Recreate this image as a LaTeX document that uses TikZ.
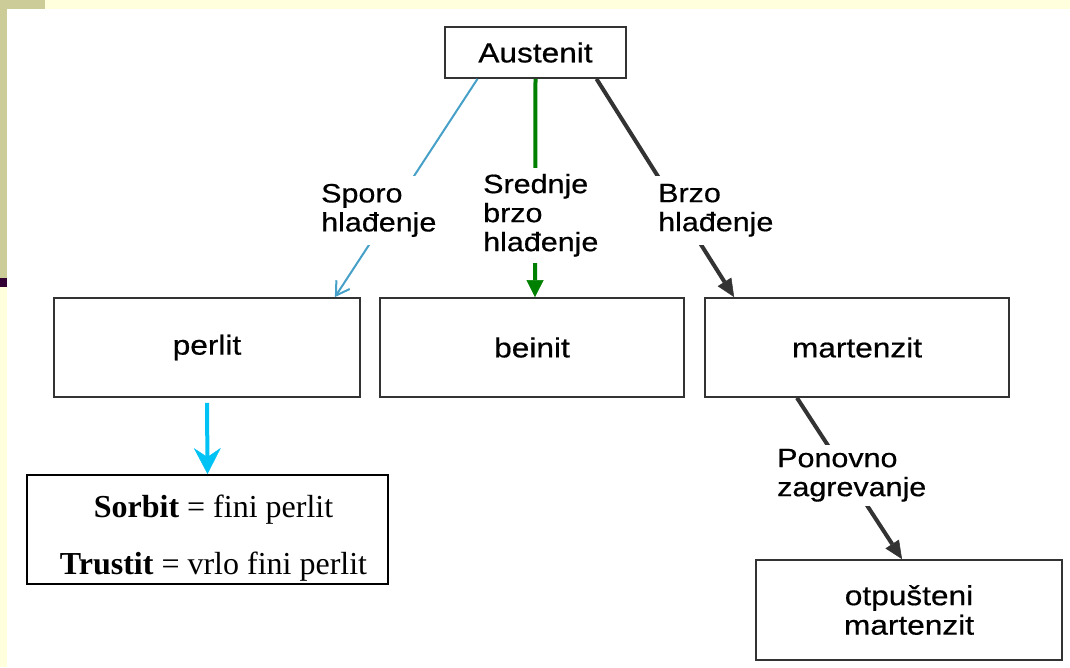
\documentclass[tikz,border=0pt]{standalone}
\usepackage{fontspec}
\setmainfont{Liberation Serif}
\newfontfamily\labfont[FakeStretch=1.15,FakeBold=0.6]{Liberation Sans}
\usetikzlibrary{arrows.meta,calc}
\definecolor{creamc}{HTML}{FFFFDD}
\definecolor{olivec}{HTML}{CCCC99}
\definecolor{plumc}{HTML}{330033}
\definecolor{bordc}{HTML}{333333}
\definecolor{slowc}{RGB}{70,160,200}
\definecolor{midc}{RGB}{0,128,0}
\definecolor{fastc}{HTML}{333333}
\definecolor{cyanc}{RGB}{0,195,245}
\begin{document}
\begin{tikzpicture}[x=1pt,y=-1pt,
  phasebox/.style={draw=bordc, line width=1.8pt, fill=white, inner sep=0pt, align=center,
    font=\labfont\fontsize{27.5}{29.5}\selectfont},
  steplabel/.style={fill=white, anchor=north west, align=left, inner xsep=3pt,
    font=\labfont\fontsize{26.5}{29}\selectfont},
  slowarrow/.style={draw=slowc, line width=2pt, -{Straight Barb[length=13pt,width=16pt]}},
  midarrow/.style={draw=midc, line width=4pt, -{Triangle[length=17pt,width=17pt,line width=0.5pt]}},
  fastarrow/.style={draw=fastc, line width=4pt, -{Triangle[length=18pt,width=16pt,line width=0.5pt]}},
  cyanarrow/.style={draw=cyanc, line width=4pt, -{Stealth[length=26pt,width=27pt,inset=9pt,line width=0.5pt]}}]
\useasboundingbox (0,0) rectangle (1070,667);
% background
\fill[white] (0,0) rectangle (1070,667);
\fill[creamc] (0,0) rectangle (1070,9);
\fill[creamc] (0,287) rectangle (7,667);
\fill[olivec] (0,0) rectangle (45,9);
\fill[olivec] (0,0) rectangle (7,278);
\fill[plumc] (0,278) rectangle (7,287);
% boxes
\node[phasebox, minimum width=181pt, minimum height=51pt] (aus) at (535.5,52.5) {Austenit};
\node[phasebox, minimum width=306pt, minimum height=99pt] (perl) at (207,347.5) {perlit};
\node[phasebox, minimum width=304pt, minimum height=99pt] (bein) at (532,347.5) {beinit};
\node[phasebox, minimum width=304pt, minimum height=99pt] (mart) at (857,347.5) {martenzit};
\node[phasebox, minimum width=306pt, minimum height=100pt] (otp) at (909,610) {otpušteni\\martenzit};
\node[draw=black, line width=2pt, fill=white, minimum width=361pt, minimum height=109pt] (sorb) at (207.5,529.5) {};
\node[font=\fontsize{32}{57}\selectfont, align=center, inner sep=0pt] (sorbtxt) at (213.5,538)
  {\textbf{Sorbit} = fini perlit\\\textbf{Trustit} = vrlo fini perlit};
% connectors
\draw[slowarrow] ($(aus.south)+(-58,0)$) -- ($(perl.north east)+(-26,0)$);
\draw[midarrow] (aus.south) -- ($(bein.north)+(3,0)$);
\draw[fastarrow] ($(aus.south)+(61,0)$) -- ($(mart.north west)+(30,0)$);
\draw[cyanarrow, shorten <=5pt] (perl.south) -- (sorb.north);
\draw[fastarrow] ($(mart.south)+(-60,0)$) -- ($(otp.north)+(-7,0)$);
% labels
\node[steplabel, inner ysep=8pt] (lslow) at (318,175.7) {Sporo\\hlađenje};
\node[steplabel, inner ysep=6pt] (lmid) at (480,167.7) {Srednje\\brzo\\hlađenje};
\node[steplabel, inner ysep=8pt] (lfast) at (655,175.7) {Brzo\\hlađenje};
\node[steplabel, inner ysep=4pt] (lre) at (774,444.7) {Ponovno\\zagrevanje};
\end{tikzpicture}
\end{document}
